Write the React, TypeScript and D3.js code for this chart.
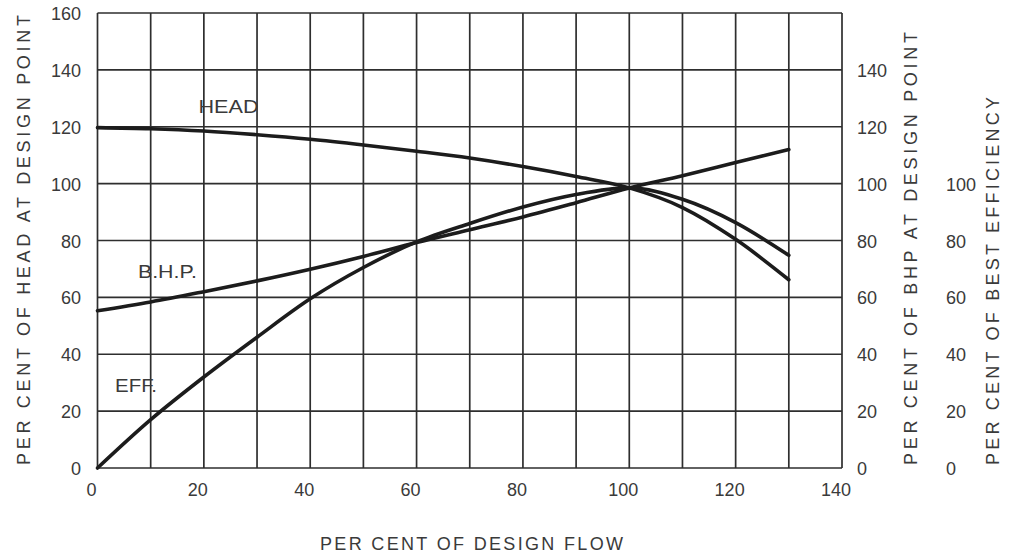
import React from "react";
import * as d3 from "d3";

const flow = [0, 10, 20, 30, 40, 50, 60, 70, 80, 90, 100, 110, 120, 130];
const head = [119.7, 119.3, 118.5, 117.2, 115.6, 113.6, 111.4, 109, 106, 102.5, 98.5, 91.6, 80.4, 66.2];
const eff = [0, 17, 32, 46, 59.5, 70.5, 79.5, 86, 91.8, 96.2, 98.5, 94.5, 86.3, 74.8];
const bhp = [55.3, 58.4, 62, 65.8, 69.9, 74.4, 79.3, 83.8, 88.3, 93.3, 98.5, 102.8, 107.4, 112];

const xTicks = [0, 20, 40, 60, 80, 100, 120, 140];
const leftTicks = [0, 20, 40, 60, 80, 100, 120, 140, 160];
const bhpTicks = [0, 20, 40, 60, 80, 100, 120, 140];
const effTicks = [0, 20, 40, 60, 80, 100];
const vGrid = d3.range(0, 141, 10);
const hGrid = d3.range(0, 161, 20);

const labels = [
  { text: "HEAD", fx: 19, v: 124.8, w: 60 },
  { text: "B.H.P.", fx: 7.6, v: 66.8, w: 59 },
  { text: "EFF.", fx: 3.3, v: 26.7, w: 42 },
];

export default function App() {
  const x = d3.scaleLinear().domain([0, 140]).range([97.5, 842]);
  const y = d3.scaleLinear().domain([0, 160]).range([468, 13]);
  const line = (vals: number[]) =>
    d3
      .line<number>()
      .x((_, i) => x(flow[i]))
      .y((d) => y(d))
      .curve(d3.curveMonotoneX)(vals) as string;

  const font = "'Liberation Sans', Arial, Helvetica, sans-serif";
  const textCol = "#3a3a3a";
  const gridCol = "#2e2e2e";
  const curveCol = "#1c1c1c";

  return (
    <svg
      width={1010}
      height={553}
      style={{ position: "absolute", left: 0, top: 0, background: "#fff" }}
      fontFamily={font}
    >
      <rect width={1010} height={553} fill="#fff" />
      <g stroke={gridCol} strokeWidth={1.7}>
        {vGrid.map((v) => (
          <line key={"v" + v} x1={x(v)} x2={x(v)} y1={y(0)} y2={y(160)} />
        ))}
        {hGrid.map((v) => (
          <line key={"h" + v} x1={x(0)} x2={x(140)} y1={y(v)} y2={y(v)} />
        ))}
      </g>
      <g fill="none" stroke={curveCol} strokeWidth={3.6} strokeLinecap="round">
        <path d={line(head)} />
        <path d={line(bhp)} />
        <path d={line(eff)} />
      </g>
      <g fill={textCol} fontSize={19}>
        {labels.map((l) => (
          <text
            key={l.text}
            x={x(l.fx)}
            y={y(l.v)}
            textLength={l.w}
            lengthAdjust="spacingAndGlyphs"
          >
            {l.text}
          </text>
        ))}
      </g>
      <g fill={textCol} fontSize={18} textAnchor="end">
        {leftTicks.map((t) => (
          <text key={t} x={81} y={y(t)} dy={7}>
            {t}
          </text>
        ))}
      </g>
      <g fill={textCol} fontSize={18} textAnchor="start">
        {bhpTicks.map((t) => (
          <text key={t} x={857} y={y(t)} dy={7}>
            {t}
          </text>
        ))}
      </g>
      <g fill={textCol} fontSize={18} textAnchor="start">
        {effTicks.map((t) => (
          <text key={t} x={946} y={y(t)} dy={7}>
            {t}
          </text>
        ))}
      </g>
      <g fill={textCol} fontSize={18} textAnchor="middle">
        {xTicks.map((t) => (
          <text key={t} x={x(t) - 6} y={496}>
            {t}
          </text>
        ))}
      </g>
      <text
        fill={textCol}
        fontSize={18}
        transform="translate(30,465) rotate(-90)"
        textLength={450}
        lengthAdjust="spacing"
      >
        PER CENT OF HEAD AT DESIGN POINT
      </text>
      <text
        fill={textCol}
        fontSize={18}
        transform="translate(917,465) rotate(-90)"
        textLength={433}
        lengthAdjust="spacing"
      >
        PER CENT OF BHP AT DESIGN POINT
      </text>
      <text
        fill={textCol}
        fontSize={18}
        transform="translate(999,465) rotate(-90)"
        textLength={368}
        lengthAdjust="spacing"
      >
        PER CENT OF BEST EFFICIENCY
      </text>
      <text
        fill={textCol}
        fontSize={18}
        x={320}
        y={550}
        textLength={303}
        lengthAdjust="spacing"
      >
        PER CENT OF DESIGN FLOW
      </text>
    </svg>
  );
}
